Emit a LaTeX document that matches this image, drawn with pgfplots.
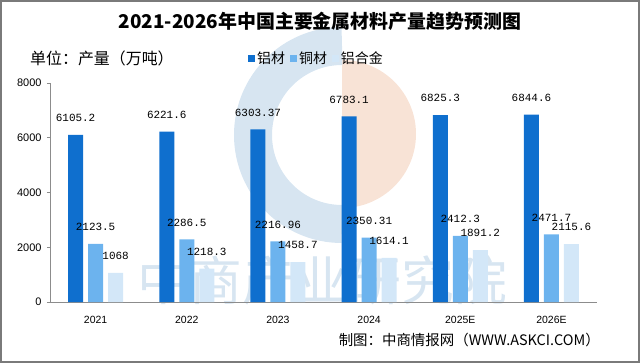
\documentclass[border=0pt]{standalone}
\usepackage{fontspec}
\setmainfont{Liberation Sans}
\newfontfamily\cjk{Noto Sans CJK SC}
\newfontfamily\mono{Liberation Mono}
\usepackage{pgfplots}
\pgfplotsset{compat=1.18}
\definecolor{cA}{HTML}{0F6FCE}
\definecolor{cB}{HTML}{6CB3EE}
\definecolor{cC}{HTML}{D3E7F8}
\definecolor{axgray}{HTML}{8C8C8C}
\definecolor{frame}{HTML}{7A7A7A}
\definecolor{wmblue}{HTML}{C9DCEC}
\definecolor{wmorange}{HTML}{F6D9C8}
\begin{document}
\begin{tikzpicture}[x=1bp,y=1bp]
\useasboundingbox (-50,-61) rectangle (590,302);
% watermark (behind)
\begin{scope}[opacity=0.75]
\fill[wmorange] (292,168) -- (292,242) arc (90:-90:74) -- cycle;
\draw[wmblue,line width=38bp] (292,256) arc (90:270:89);
\node[text=wmblue,font=\cjk\fontsize{53}{53}\selectfont] at (272,22) {中商产业研究院};
\end{scope}
\begin{axis}[
  scale only axis,
  width=547bp, height=219bp,
  xmin=-0.5, xmax=5.5,
  ymin=0, ymax=8000,
  ybar=5bp, bar width=15bp,
  axis x line*=bottom, axis y line*=left,
  axis line style={axgray, line width=0.8bp},
  xtick={0,1,2,3,4,5},
  xticklabels={2021,2022,2023,2024,2025E,2026E},
  ytick={0,2000,4000,6000,8000},
  xtick style={draw=none},
  ytick style={draw=axgray, line width=0.8bp},
  tick align=outside,
  major tick length=3bp,
  /pgf/number format/assume math mode=true,
  /pgf/number format/set thousands separator={},
  yticklabel style={font=\fontsize{11}{11}\selectfont, xshift=-2bp},
  xticklabel style={font=\fontsize{10.5}{10.5}\selectfont, yshift=-8bp},
  nodes near coords,
  point meta=explicit symbolic,
  nodes near coords style={font=\mono\fontsize{11}{11}\selectfont, inner sep=0pt, anchor=south, yshift=13bp, text=black},
  legend columns=3,
  legend style={draw=none, fill=none, at={(0.362,1.114)}, anchor=west, inner sep=0pt,
     font=\cjk\fontsize{14}{14}\selectfont,
     /tikz/every even column/.append style={column sep=3bp}},
  legend image code/.code={\fill[#1] (0bp,-4bp) rectangle (7bp,3.5bp);},
  clip=false,
]
\addplot[fill=cA, draw=none] coordinates {
 (0,6105.2) [6105.2] (1,6221.6) [6221.6] (2,6303.37) [6303.37]
 (3,6783.1) [6783.1] (4,6825.3) [6825.3] (5,6844.6) [6844.6]};
\addplot[fill=cB, draw=none] coordinates {
 (0,2123.5) [2123.5] (1,2286.5) [2286.5] (2,2216.96) [2216.96]
 (3,2350.31) [2350.31] (4,2412.3) [2412.3] (5,2471.7) [2471.7]};
\addplot[fill=cC, draw=none] coordinates {
 (0,1068) [1068] (1,1218.3) [1218.3] (2,1458.7) [1458.7]
 (3,1614.1) [1614.1] (4,1891.2) [1891.2] (5,2115.6) [2115.6]};
\legend{铝材,铜材,铝合金}
\end{axis}
\node[font=\cjk\bfseries\fontsize{19}{19}\selectfont] at (270,281) {2021-2026年中国主要金属材料产量趋势预测图};
\node[font=\cjk\fontsize{16}{16}\selectfont, anchor=west, inner sep=0pt] at (-20,244) {单位：产量（万吨）};
\node[font=\cjk\fontsize{14.5}{14.5}\selectfont, anchor=east, inner sep=0pt] at (550,-38) {制图：中商情报网（WWW.ASKCI.COM）};
\draw[frame, line width=2bp] (-49,-60) rectangle (589,301);
\end{tikzpicture}
\end{document}
